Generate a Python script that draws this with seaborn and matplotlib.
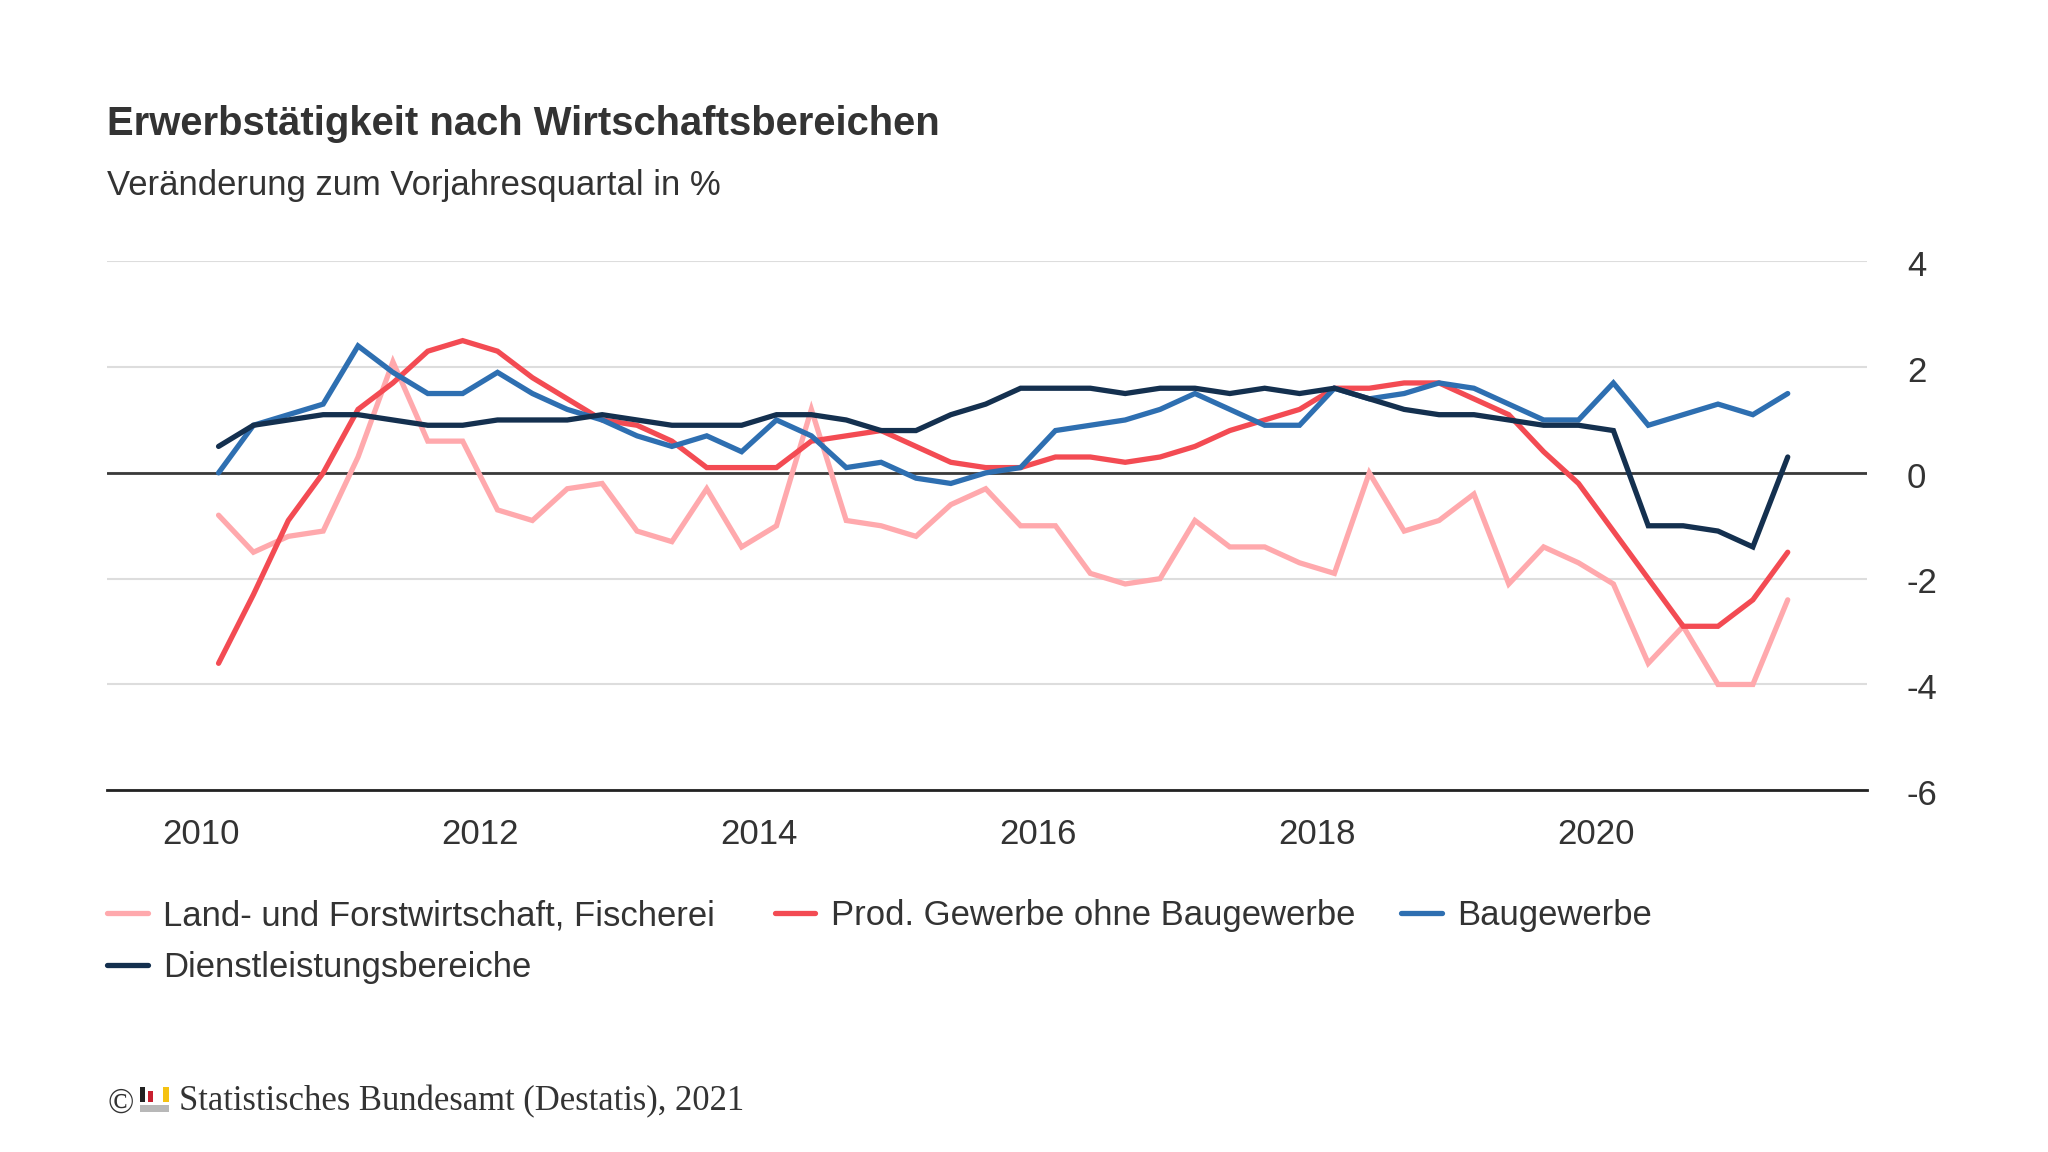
import pandas as pd
import seaborn as sns
import matplotlib.pyplot as plt
from matplotlib.patches import Rectangle
from matplotlib.transforms import ScaledTranslation

# quarterly values, 2010 Q1 to 2021 Q2
quarters = pd.period_range("2010Q1", "2021Q2", freq="Q")

land = [-0.8, -1.5, -1.2, -1.1,
        0.3, 2.1, 0.6, 0.6,
        -0.7, -0.9, -0.3, -0.2,
        -1.1, -1.3, -0.3, -1.4,
        -1.0, 1.2, -0.9, -1.0,
        -1.2, -0.6, -0.3, -1.0,
        -1.0, -1.9, -2.1, -2.0,
        -0.9, -1.4, -1.4, -1.7,
        -1.9, 0.0, -1.1, -0.9,
        -0.4, -2.1, -1.4, -1.7,
        -2.1, -3.6, -2.9, -4.0,
        -4.0, -2.4]
prod = [-3.6, -2.3, -0.9, 0.0,
        1.2, 1.7, 2.3, 2.5,
        2.3, 1.8, 1.4, 1.0,
        0.9, 0.6, 0.1, 0.1,
        0.1, 0.6, 0.7, 0.8,
        0.5, 0.2, 0.1, 0.1,
        0.3, 0.3, 0.2, 0.3,
        0.5, 0.8, 1.0, 1.2,
        1.6, 1.6, 1.7, 1.7,
        1.4, 1.1, 0.4, -0.2,
        -1.1, -2.0, -2.9, -2.9,
        -2.4, -1.5]
bau = [0.0, 0.9, 1.1, 1.3,
       2.4, 1.9, 1.5, 1.5,
       1.9, 1.5, 1.2, 1.0,
       0.7, 0.5, 0.7, 0.4,
       1.0, 0.7, 0.1, 0.2,
       -0.1, -0.2, 0.0, 0.1,
       0.8, 0.9, 1.0, 1.2,
       1.5, 1.2, 0.9, 0.9,
       1.6, 1.4, 1.5, 1.7,
       1.6, 1.3, 1.0, 1.0,
       1.7, 0.9, 1.1, 1.3,
       1.1, 1.5]
dienst = [0.5, 0.9, 1.0, 1.1,
          1.1, 1.0, 0.9, 0.9,
          1.0, 1.0, 1.0, 1.1,
          1.0, 0.9, 0.9, 0.9,
          1.1, 1.1, 1.0, 0.8,
          0.8, 1.1, 1.3, 1.6,
          1.6, 1.6, 1.5, 1.6,
          1.6, 1.5, 1.6, 1.5,
          1.6, 1.4, 1.2, 1.1,
          1.1, 1.0, 0.9, 0.9,
          0.8, -1.0, -1.0, -1.1,
          -1.4, 0.3]

series_names = ["Land- und Forstwirtschaft, Fischerei", "Prod. Gewerbe ohne Baugewerbe",
                "Baugewerbe", "Dienstleistungsbereiche"]
series_colors = ["#ffa9ad", "#f34b53", "#2e6fb1", "#14304f"]
x_ticks = [2010, 2012, 2014, 2016, 2018, 2020]
y_ticks = [4, 2, 0, -2, -4, -6]

sns.set_theme(style="white")
plt.rcParams["font.family"] = ["Liberation Sans", "DejaVu Sans"]
TEXT = "#333333"

time = [p.year + (p.quarter - 0.5) / 4 for p in quarters]
df = pd.DataFrame({"time": time, series_names[0]: land, series_names[1]: prod,
                   series_names[2]: bau, series_names[3]: dienst})
df = df.melt(id_vars="time", var_name="bereich", value_name="wert")

fig = plt.figure(figsize=(20.48, 11.52), dpi=100)
ax = fig.add_axes([0.0523, 0.314, 0.8591, 0.4592])

ax.yaxis.grid(True, color="#dddddd", lw=1.5)
ax.xaxis.grid(False)
ax.set_axisbelow(True)
ax.axhline(0, color="#3a3a3a", lw=2, zorder=1.5)

sns.lineplot(data=df, x="time", y="wert", hue="bereich", hue_order=series_names,
             palette=series_colors, lw=3.8, ax=ax, solid_capstyle="round",
             solid_joinstyle="miter")

ax.set_xlim(2009.326, 2021.94)
ax.set_ylim(-6, 4)
ax.set_xticks(x_ticks)
ax.set_yticks(y_ticks)
ax.set_yticklabels([str(v) for v in y_ticks])
ax.set_xlabel("")
ax.set_ylabel("")
ax.yaxis.tick_right()
ax.tick_params(axis="y", length=0, pad=29, labelsize=25, labelcolor=TEXT)
ax.tick_params(axis="x", length=0, pad=20, labelsize=25, labelcolor=TEXT)
for lab in ax.get_yticklabels():
    lab.set_verticalalignment("center_baseline")
    lab.set_transform(lab.get_transform() + ScaledTranslation(0, -1.2 / 72, fig.dpi_scale_trans))
sns.despine(ax=ax, left=True, right=True, top=True)
ax.spines["bottom"].set_color("#222222")
ax.spines["bottom"].set_linewidth(2)

# the legend columns are not evenly spaced, so each entry gets its own anchor
handles, labels = ax.get_legend_handles_labels()
ax.get_legend().remove()
legend_anchor = [(0.0523, 0.2052), (0.3782, 0.2052), (0.6843, 0.2052), (0.0523, 0.1599)]
for h, lab, anchor in zip(handles, labels, legend_anchor):
    fig.legend([h], [lab], frameon=False, loc="center left", bbox_to_anchor=anchor,
               borderaxespad=0, borderpad=0, fontsize=24.9, labelcolor=TEXT,
               handlelength=1.18, handletextpad=0.44)

fig.text(0.0523, 0.892, "Erwerbstätigkeit nach Wirtschaftsbereichen", fontsize=28.8,
         fontweight="bold", color=TEXT, va="center")
fig.text(0.0523, 0.839, "Veränderung zum Vorjahresquartal in %", fontsize=24.9,
         color=TEXT, va="center")

# copyright sign, small logo and source line
fig.text(0.0523, 0.0415, "©", fontsize=25, family="Liberation Serif", color=TEXT, va="center")
fig.text(0.0874, 0.044, "Statistisches Bundesamt (Destatis), 2021", fontsize=24.9,
         family="Liberation Serif", color=TEXT, va="center")
for x0, y0, w, h, c in [(0.0682, 0.0430, 0.0028, 0.0137, "#222222"),
                        (0.0722, 0.0430, 0.0026, 0.0100, "#c8202f"),
                        (0.0795, 0.0430, 0.0028, 0.0137, "#f5c211"),
                        (0.0682, 0.0350, 0.0141, 0.0057, "#b8b8b8")]:
    fig.add_artist(Rectangle((x0, y0), w, h, transform=fig.transFigure, color=c, lw=0))

fig.savefig("out.png", dpi=100)
plt.close(fig)
